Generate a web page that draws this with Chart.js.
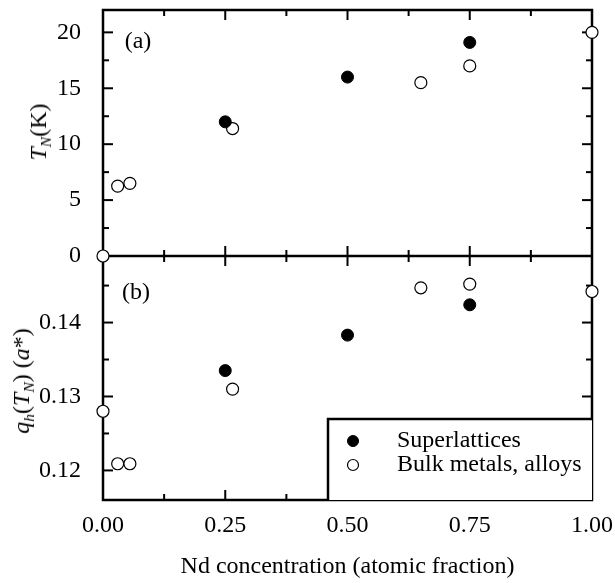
<!DOCTYPE html>
<html>
<head>
<meta charset="utf-8">
<script src="https://cdn.jsdelivr.net/npm/chart.js@4.4.1/dist/chart.umd.min.js"></script>
<style>
html, body { margin: 0; padding: 0; background: #fff; }
#wrap { position: relative; width: 615px; height: 583px; }
.ytitle { position: absolute; font-family: "Liberation Serif", serif; font-size: 24px; white-space: nowrap;
          transform: translate(-50%, -50%) rotate(-90deg); line-height: 1; }
.ytitle sub { font-size: 65%; vertical-align: -0.3em; line-height: 0; }
</style>
</head>
<body>
<div id="wrap">
  <canvas id="chart" width="615" height="583"></canvas>
  <div class="ytitle" style="left:38px; top:132px;"><i>T<sub>N</sub></i>(K)</div>
  <div class="ytitle" style="left:21px; top:381px;"><i>q<sub>h</sub></i>(<i>T<sub>N</sub></i>) (<i>a</i>*)</div>
</div>
<script>
// Nd concentration of each sample
const superX = [0.25, 0.5, 0.75];
const bulkX = [0, 0.03, 0.055, 0.265, 0.65, 0.75, 1.0];

// (a) Neel temperature, K
const superTN = [12.0, 16.0, 19.1];
const bulkTN = [0, 6.25, 6.5, 11.4, 15.5, 17.0, 20.0];

// (b) ordering wavevector at T_N, a*
const superQ = [0.1335, 0.1383, 0.1424];
const bulkQ = [0.128, 0.1209, 0.1209, 0.131, 0.1447, 0.1452, 0.1442];

// ticks
const xTicks = [0, 0.25, 0.5, 0.75, 1.0];
const xMinor = [0.125, 0.375, 0.625, 0.875];
const tnTicks = [0, 5, 10, 15, 20];
const tnMinor = [2.5, 7.5, 12.5, 17.5];
const qTicks = [0.12, 0.13, 0.14];
const qMinor = [0.125, 0.135, 0.145];

const FONT = '"Liberation Serif", "Times New Roman", serif';
Chart.defaults.font.family = FONT;
Chart.defaults.font.size = 24;
Chart.defaults.color = '#000';

function pts(xs, ys) {
    return xs.map((x, i) => ({ x: x, y: ys[i] }));
}

// y axes: fixed width, no extra padding from the tick labels
function fixY(s) {
    s.width = 103;
    s.paddingTop = 0;
    s.paddingBottom = 0;
}

const filled = { pointRadius: 6, backgroundColor: '#000', borderColor: '#000', borderWidth: 1 };
const hollow = { pointRadius: 6, backgroundColor: '#fff', borderColor: '#000', borderWidth: 1.2 };

const framePlugin = {
    id: 'frame',
    beforeDatasetsDraw(chart) {
        const { ctx, chartArea: a, scales } = chart;
        const x = scales.x, yT = scales.yTop, yB = scales.yBot;
        const mid = yT.bottom;
        ctx.save();
        ctx.strokeStyle = '#000';
        ctx.lineWidth = 2.5;
        function seg(x1, y1, x2, y2) {
            ctx.beginPath(); ctx.moveTo(x1, y1); ctx.lineTo(x2, y2); ctx.stroke();
        }
        ctx.strokeRect(a.left, a.top, a.right - a.left, a.bottom - a.top);
        seg(a.left, mid, a.right, mid);

        ctx.lineWidth = 2;
        function tickX(vals, len) {
            vals.forEach(v => {
                const px = x.getPixelForValue(v);
                seg(px, a.top, px, a.top + len);
                seg(px, mid - len, px, mid + len);
                seg(px, a.bottom, px, a.bottom - len);
            });
        }
        function tickY(scale, vals, len) {
            vals.forEach(v => {
                const py = scale.getPixelForValue(v);
                seg(a.left, py, a.left + len, py);
                seg(a.right, py, a.right - len, py);
            });
        }
        tickX(xTicks.slice(1, -1), 10);
        tickX(xMinor, 6);
        tickY(yT, tnTicks.slice(1), 10);
        tickY(yT, tnMinor, 6);
        tickY(yB, qTicks, 10);
        tickY(yB, qMinor, 6);
        ctx.restore();
    },
    afterDatasetsDraw(chart) {
        const { ctx, chartArea: a, scales } = chart;
        const mid = scales.yTop.bottom;
        const ds = chart.data.datasets;
        ctx.save();
        ctx.fillStyle = '#000';
        ctx.font = '24px ' + FONT;
        ctx.textBaseline = 'middle';
        ctx.textAlign = 'center';
        ctx.fillText('(a)', a.left + 35, a.top + 32);
        ctx.fillText('(b)', a.left + 33, mid + 37);
        ctx.textAlign = 'left';

        // legend box in the lower right corner
        const bx = a.right - 264, by = a.bottom - 81;
        ctx.fillStyle = '#fff';
        ctx.fillRect(bx, by, a.right - bx, a.bottom - by);
        ctx.strokeStyle = '#000';
        ctx.lineWidth = 2.5;
        ctx.beginPath();
        ctx.moveTo(bx, a.bottom); ctx.lineTo(bx, by); ctx.lineTo(a.right, by);
        ctx.stroke();
        [ds[0], ds[1]].forEach((d, i) => {
            const cy = by + 22 + i * 24;
            ctx.beginPath();
            ctx.arc(bx + 25, cy, d.pointRadius - 0.5, 0, Math.PI * 2);
            ctx.fillStyle = d.backgroundColor;
            ctx.fill();
            ctx.lineWidth = d.borderWidth;
            ctx.strokeStyle = d.borderColor;
            ctx.stroke();
            ctx.fillStyle = '#000';
            ctx.fillText(d.label, bx + 69, cy);
        });
        ctx.restore();
    }
};

new Chart(document.getElementById('chart'), {
    type: 'scatter',
    data: {
        datasets: [
            Object.assign({ label: 'Superlattices', data: pts(superX, superTN), yAxisID: 'yTop' }, filled),
            Object.assign({ label: 'Bulk metals, alloys', data: pts(bulkX, bulkTN), yAxisID: 'yTop' }, hollow),
            Object.assign({ label: 'Superlattices', data: pts(superX, superQ), yAxisID: 'yBot' }, filled),
            Object.assign({ label: 'Bulk metals, alloys', data: pts(bulkX, bulkQ), yAxisID: 'yBot' }, hollow)
        ]
    },
    options: {
        responsive: false,
        animation: false,
        clip: false,
        layout: { padding: { left: 0, top: 10, right: 23, bottom: 0 } },
        plugins: { legend: { display: false }, tooltip: { enabled: false } },
        scales: {
            x: {
                type: 'linear', min: 0, max: 1,
                grid: { display: false }, border: { display: false },
                title: { display: true, text: 'Nd concentration (atomic fraction)', padding: { top: 10, bottom: 2 } },
                ticks: { padding: 3, maxRotation: 0, callback: v => v.toFixed(2) },
                afterBuildTicks: s => { s.ticks = xTicks.map(v => ({ value: v })); },
                afterFit: s => { s.height = 83; s.paddingLeft = 0; s.paddingRight = 0; }
            },
            yBot: {
                type: 'linear', position: 'left', stack: 'panels', stackWeight: 244,
                min: 0.116, max: 0.149,
                grid: { display: false }, border: { display: false },
                ticks: { padding: 14, callback: v => v.toFixed(2) },
                afterBuildTicks: s => { s.ticks = qTicks.map(v => ({ value: v })); },
                afterFit: fixY
            },
            yTop: {
                type: 'linear', position: 'left', stack: 'panels', stackWeight: 246,
                min: 0, max: 22,
                grid: { display: false }, border: { display: false },
                ticks: { padding: 14, callback: v => String(v) },
                afterBuildTicks: s => { s.ticks = tnTicks.map(v => ({ value: v })); },
                afterFit: fixY
            }
        }
    },
    plugins: [framePlugin]
});
</script>
</body>
</html>
